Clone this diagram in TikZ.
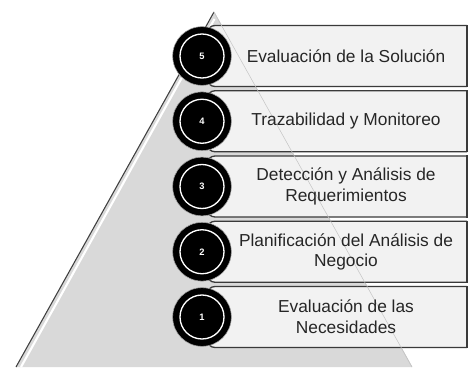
\documentclass[tikz,border=0pt]{standalone}
\usepackage{fontspec}
\setmainfont{Liberation Sans}
\definecolor{trifill}{HTML}{D9D9D9}
\definecolor{boxfill}{HTML}{F2F2F2}
\definecolor{boxline}{HTML}{3A3A3A}
\begin{document}
\begin{tikzpicture}[x=0.75pt,y=-0.75pt,
  boxshape/.style={fill=boxfill,draw=boxline,line width=1pt,rounded corners=6pt},
  numcircle/.style={circle,fill=black,draw=gray!70,line width=0.4pt,minimum size=44pt,inner sep=0pt},
  numtext/.style={text=white,font=\bfseries\fontsize{7}{7}\selectfont,inner sep=0pt},
  lbl/.style={align=center,font=\fontsize{13}{15.5}\selectfont,text=black!85,inner sep=0pt}]
\useasboundingbox (0,0) rectangle (470,367);
% pyramid
\coordinate (apex) at (214,12);
\coordinate (bl) at (16,367);
\coordinate (br) at (412,367);
\fill[trifill] (apex) -- (br) -- (bl) -- cycle;
\draw[white,line width=1.6pt] (214.5,19) -- (21,367);
\draw[black!75,line width=0.8pt] (apex) -- (bl);
\draw[gray!45,line width=0.5pt] (apex) -- (br);
% boxes
\foreach \c in {56,121.25,186.5,251.75,317}{
  \begin{scope}
    \clip (0,0) rectangle (467,367);
    \draw[boxshape] (207,\c-30.5) rectangle (490,\c+30.5);
  \end{scope}
  \draw[boxline,line width=1pt,line cap=rect] (467,\c-30.5) -- (467,\c+30.5);
}
\draw[gray!45,line width=0.4pt] (apex) -- (br);
% circles
\foreach \n/\c in {5/56,4/121.25,3/186.5,2/251.75,1/317}{
  \node[numcircle] (c\n) at (202,\c) {};
  \draw[white,line width=1pt] (c\n.center) circle[radius=16.5pt];
  \node[numtext] (n\n) at (c\n.center) {\n};
}
% labels
\node[lbl] (t5) at (346,56) {Evaluación de la Solución};
\node[lbl] (t4) at (346,121.25) {Trazabilidad y Monitoreo};
\node[lbl] (t3) at (346,186.5) {Detección y Análisis de\\Requerimientos};
\node[lbl] (t2) at (346,251.75) {Planificación del Análisis de\\Negocio};
\node[lbl] (t1) at (346,317) {Evaluación de las\\Necesidades};
\end{tikzpicture}
\end{document}
